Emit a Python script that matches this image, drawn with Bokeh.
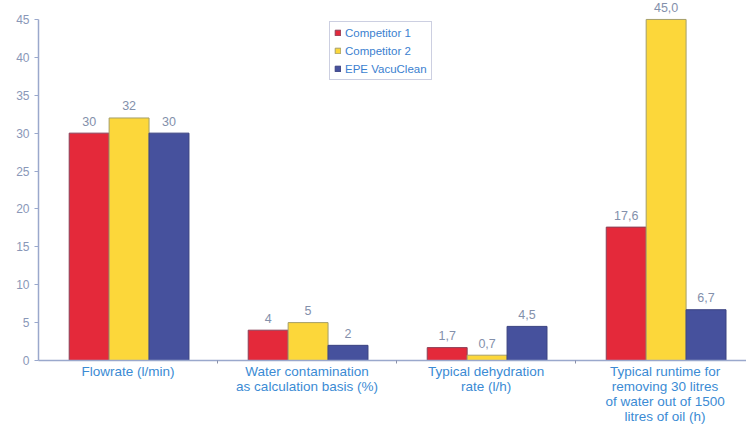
import numpy as np
from bokeh.plotting import figure
from bokeh.models import (Range1d, FixedTicker, ColumnDataSource, LabelSet,
                          Legend, LegendItem)
from bokeh.core.properties import value
from bokeh.embed import file_html
from bokeh.resources import INLINE

# ---- data ----
categories = [
    "Flowrate (l/min)",
    "Water contamination\nas calculation basis (%)",
    "Typical dehydration\nrate (l/h)",
    "Typical runtime for\nremoving 30 litres\nof water out of 1500\nlitres of oil (h)",
]
series_names = ["Competitor 1", "Competitor 2", "EPE VacuClean"]
competitor1 = [30, 4, 1.7, 17.6]
competitor2 = [32, 5, 0.7, 45.0]
vacuclean = [30, 2, 4.5, 6.7]
labels1 = ["30", "4", "1,7", "17,6"]
labels2 = ["32", "5", "0,7", "45,0"]
labels3 = ["30", "2", "4,5", "6,7"]
y_ticks = [0, 5, 10, 15, 20, 25, 30, 35, 40, 45]

fills = ["#E4293A", "#FCD73A", "#46519D"]
outlines = ["#8a4058", "#a59f6a", "#3a4280"]

FONT = "Liberation Sans"

p = figure(width=746, height=426, output_backend="svg", toolbar_location=None,
           x_range=Range1d(0, 3.955), y_range=Range1d(0, 47.5),
           min_border_left=38, min_border_right=0, min_border_top=0,
           min_border_bottom=0)
p.outline_line_color = None
p.xgrid.grid_line_color = None
p.ygrid.grid_line_color = None
p.background_fill_color = "white"
p.border_fill_color = "white"

centers = np.arange(len(categories)) + 0.5
bw = 0.223
offsets = [-bw, 0.0, bw]
values = [competitor1, competitor2, vacuclean]
texts = [labels1, labels2, labels3]

items = []
for name, vals, txt, off, fc, lc in zip(series_names, values, texts, offsets, fills, outlines):
    src = ColumnDataSource(dict(x=centers + off + 0.006, top=vals, text=txt))
    r = p.vbar(x="x", top="top", width=bw, bottom=0, source=src,
               fill_color=fc, line_color=lc, line_width=1)
    items.append(LegendItem(label=name, renderers=[r]))
    lab = LabelSet(x="x", y="top", text="text", source=src, y_offset=12,
                   text_align="center", text_baseline="middle",
                   text_font=value(FONT), text_font_size=value("12.5px"),
                   text_color="#8390ab")
    p.add_layout(lab)

# y axis
ya = p.yaxis[0]
ya.ticker = FixedTicker(ticks=y_ticks)
ya.bounds = (0, 45)
ya.axis_line_color = "#9aa8cc"
ya.axis_line_width = 1.5
ya.major_tick_line_color = "#9aa8cc"
ya.major_tick_out = 4
ya.major_tick_in = 0
ya.minor_tick_line_color = None
ya.major_label_text_color = "#8a97b8"
ya.major_label_text_font = FONT
ya.major_label_text_font_size = "12px"
ya.major_label_standoff = 5

# x axis
xa = p.xaxis[0]
xa.ticker = FixedTicker(ticks=list(centers), minor_ticks=[1, 2, 3])
xa.major_label_overrides = {float(c): cat for c, cat in zip(centers, categories)}
xa.axis_line_color = "#9aa8cc"
xa.axis_line_width = 1.5
xa.major_tick_line_color = None
xa.major_tick_out = 0
xa.major_tick_in = 0
xa.minor_tick_line_color = "#8a90a8"
xa.minor_tick_out = 3
xa.minor_tick_in = 0
xa.major_label_text_color = "#3b8bd4"
xa.major_label_text_font = FONT
xa.major_label_text_font_size = "13.5px"
xa.major_label_text_line_height = 1.0
xa.major_label_standoff = 0

legend = Legend(items=items, location=(291, 280),
                border_line_color="#9aa0c4", border_line_width=1,
                background_fill_color="white", background_fill_alpha=1,
                label_text_color="#3b7fd0", label_text_font=FONT,
                label_text_font_size="11.5px", glyph_width=7, glyph_height=7,
                label_height=13, label_standoff=4, spacing=5, padding=4,
                margin=0)
p.add_layout(legend, "center")

open("out.html", "w").write(file_html(p, INLINE))
